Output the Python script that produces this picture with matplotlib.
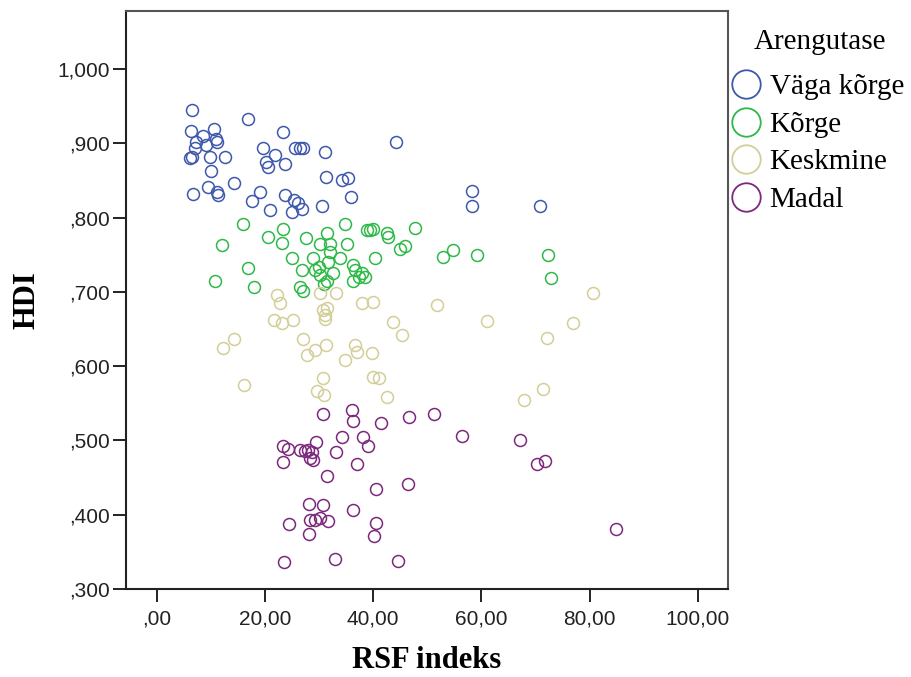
import matplotlib
matplotlib.use('Agg')
import matplotlib.pyplot as plt
from matplotlib.lines import Line2D

# RSF indeks (x) ja HDI (y) arengutaseme kaupa
vaga_korge_x = [6.5, 16.8, 6.3, 10.5, 8.6, 11.0, 11.1, 9.2, 7.3, 7.1, 6.5, 6.2, 9.9, 12.6,
                10.0, 9.5, 11.1, 11.4, 6.8, 14.3, 19.7, 21.9, 20.2, 20.5, 23.7, 23.4, 25.6,
                26.4, 27.0, 31.1, 31.2, 34.2, 35.4, 35.9, 30.6, 23.7, 19.1, 17.7, 20.9, 25.3,
                26.2, 26.8, 25.0, 44.2, 58.2, 58.2, 70.8]
vaga_korge_y = [.945, .933, .916, .919, .910, .905, .902, .898, .902, .893, .882, .880, .882, .882,
                .862, .841, .835, .830, .831, .846, .893, .884, .875, .868, .872, .915, .893,
                .893, .893, .888, .854, .850, .853, .827, .815, .830, .835, .822, .810, .824,
                .819, .812, .808, .901, .836, .815, .815]

korge_x = [16.0, 12.1, 10.8, 16.8, 18.0, 20.6, 23.3, 23.1, 27.6, 25.0, 26.8, 26.5, 27.1, 30.2,
           31.4, 32.0, 34.8, 35.1, 38.8, 39.4, 40.0, 42.5, 42.8, 47.7, 45.0, 45.9, 40.3, 28.9,
           29.9, 31.7, 32.0, 33.9, 29.3, 30.2, 31.4, 32.6, 36.3, 36.7, 37.3, 37.9, 38.5, 36.3,
           31.0, 52.9, 54.8, 59.1, 72.3, 72.8]
korge_y = [.791, .763, .715, .732, .706, .774, .785, .766, .772, .746, .730, .706, .701, .765,
           .779, .765, .791, .765, .783, .783, .785, .779, .774, .786, .758, .761, .746, .745,
           .734, .740, .754, .745, .729, .722, .714, .725, .736, .729, .720, .725, .720, .714,
           .711, .747, .756, .750, .749, .719]

keskmine_x = [22.2, 22.8, 21.6, 23.1, 25.2, 30.2, 33.1, 30.8, 31.4, 31.1, 31.1, 37.9, 40.0,
              43.6, 45.4, 14.3, 12.3, 27.0, 27.7, 29.3, 31.2, 34.8, 36.7, 37.0, 39.7, 40.0,
              41.0, 30.7, 29.7, 31.0, 42.5, 16.1, 51.8, 80.7, 61.0, 77.0, 72.2, 71.3, 67.9]
keskmine_y = [.696, .685, .662, .658, .662, .698, .698, .676, .678, .669, .664, .685, .686,
              .660, .642, .636, .624, .637, .615, .622, .628, .608, .628, .619, .617, .586,
              .584, .584, .566, .561, .559, .574, .682, .698, .661, .658, .638, .569, .555]

madal_x = [30.7, 36.0, 36.3, 41.4, 46.7, 23.3, 24.3, 26.5, 27.4, 28.0, 28.7, 29.4, 28.9, 23.4,
           28.3, 34.2, 33.1, 38.1, 39.1, 37.0, 31.5, 40.5, 46.4, 28.2, 30.7, 36.2, 29.3, 30.2,
           31.7, 28.3, 24.5, 28.2, 40.5, 40.2, 23.5, 33.0, 44.5, 51.3, 56.5, 67.2, 70.2, 71.8,
           84.8]
madal_y = [.535, .541, .526, .524, .531, .492, .489, .487, .486, .487, .485, .498, .474, .471,
           .476, .504, .484, .504, .492, .468, .452, .435, .441, .414, .413, .406, .393, .395,
           .392, .393, .388, .374, .389, .371, .337, .341, .338, .536, .506, .500, .468, .472,
           .381]

groups = ['Väga kõrge', 'Kõrge', 'Keskmine', 'Madal']
colors = ['#3E58AC', '#2EB848', '#D3CE97', '#7C287D']
x_ticks = [0, 20, 40, 60, 80, 100]
y_ticks = [0.3, 0.4, 0.5, 0.6, 0.7, 0.8, 0.9, 1.0]


def spss_label(value, decimals):
    text = f'{value:.{decimals}f}'.replace('.', ',')
    if text.startswith('0,'):
        text = text[1:]
    return text


fig = plt.figure(figsize=(9.11, 6.77), dpi=100)
ax = fig.add_axes([0.1383, 0.1300, 0.6605, 0.8538])

series = [(vaga_korge_x, vaga_korge_y), (korge_x, korge_y),
          (keskmine_x, keskmine_y), (madal_x, madal_y)]
for (xs, ys), color in zip(series, colors):
    ax.plot(xs, ys, linestyle='none', marker='o', markersize=8.6,
            markerfacecolor='none', markeredgecolor=color, markeredgewidth=1.1)

ax.set_xlim(-5.67, 105.5)
ax.set_ylim(0.3, 1.078)
ax.set_xticks(x_ticks)
ax.set_xticklabels([spss_label(v, 2) for v in x_ticks])
ax.set_yticks(y_ticks)
ax.set_yticklabels([spss_label(v, 3) for v in y_ticks])
ax.tick_params(direction='out', length=9.4, width=1.4, color='#222222',
               labelsize=15, labelcolor='#222222', pad=2)
ax.tick_params(axis='x', pad=5.5)
for label in ax.get_xticklabels() + ax.get_yticklabels():
    label.set_fontfamily('Liberation Sans')

for side in ['left', 'bottom']:
    ax.spines[side].set_color('#222222')
    ax.spines[side].set_linewidth(1.5)
for side in ['top', 'right']:
    ax.spines[side].set_color('#555555')
    ax.spines[side].set_linewidth(1.5)

ax.set_xlabel('RSF indeks', fontfamily='Liberation Serif', fontweight='bold', fontsize=22)
ax.set_ylabel('HDI', fontfamily='Liberation Serif', fontweight='bold', fontsize=22)
ax.xaxis.set_label_coords(0.5, -0.099)
ax.yaxis.set_label_coords(-0.14, 0.5)

# legend: title as its own text so the gap below it matches
handles = [Line2D([], [], linestyle='none', marker='o', markersize=20.5,
                  markerfacecolor='none', markeredgecolor=c, markeredgewidth=1.3)
           for c in colors]
fig.legend(handles, groups, loc='upper left', bbox_to_anchor=(0.8025, 0.8906),
           frameon=False, borderpad=0, borderaxespad=0,
           handlelength=1.0, handletextpad=0.32, labelspacing=0.38,
           prop={'family': 'Liberation Serif', 'size': 21})
fig.text(0.900, 0.9276, 'Arengutase', ha='center', va='baseline',
         fontfamily='Liberation Serif', fontsize=21)

fig.savefig('out.png', dpi=100)
